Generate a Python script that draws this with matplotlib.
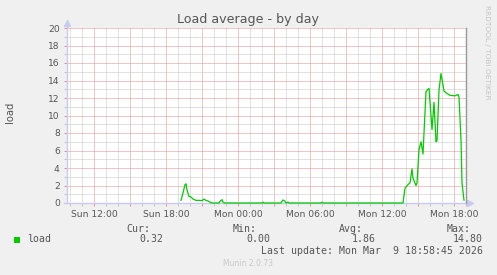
import numpy as np
import pandas as pd
import matplotlib
matplotlib.use('Agg')
import matplotlib.pyplot as plt
import matplotlib.dates as mdates
from matplotlib.patches import Rectangle

# load samples (Sun = 2026-03-08, Mon = 2026-03-09)
times = [
    '2026-03-08 19:15', '2026-03-08 19:25', '2026-03-08 19:35', '2026-03-08 19:40',
    '2026-03-08 19:45', '2026-03-08 19:55', '2026-03-08 20:05', '2026-03-08 20:15',
    '2026-03-08 20:30', '2026-03-08 20:50', '2026-03-08 21:00', '2026-03-08 21:10',
    '2026-03-08 21:20', '2026-03-08 21:30', '2026-03-08 21:40', '2026-03-08 21:50',
    '2026-03-08 22:25', '2026-03-08 22:30', '2026-03-08 22:40', '2026-03-08 22:45',
    '2026-03-08 22:55', '2026-03-09 02:00', '2026-03-09 02:05', '2026-03-09 02:10',
    '2026-03-09 03:35', '2026-03-09 03:40', '2026-03-09 03:45', '2026-03-09 03:55',
    '2026-03-09 04:00', '2026-03-09 04:10', '2026-03-09 04:15', '2026-03-09 06:55',
    '2026-03-09 07:00', '2026-03-09 07:05', '2026-03-09 13:45', '2026-03-09 13:55',
    '2026-03-09 14:10', '2026-03-09 14:20', '2026-03-09 14:30', '2026-03-09 14:35',
    '2026-03-09 14:50', '2026-03-09 14:55', '2026-03-09 15:05', '2026-03-09 15:15',
    '2026-03-09 15:25', '2026-03-09 15:40', '2026-03-09 15:55', '2026-03-09 16:10',
    '2026-03-09 16:20', '2026-03-09 16:30', '2026-03-09 16:35', '2026-03-09 16:45',
    '2026-03-09 16:55', '2026-03-09 17:05', '2026-03-09 17:10', '2026-03-09 17:20',
    '2026-03-09 17:40', '2026-03-09 18:05', '2026-03-09 18:20', '2026-03-09 18:25',
    '2026-03-09 18:35', '2026-03-09 18:40', '2026-03-09 18:50',
]
load = [
    0.30, 1.15, 2.10, 2.20,
    1.50, 0.75, 0.70, 0.45,
    0.30, 0.30, 0.27, 0.45,
    0.30, 0.23, 0.10, 0.00,
    0.00, 0.20, 0.38, 0.10,
    0.00, 0.00, 0.10, 0.00,
    0.00, 0.20, 0.35, 0.20,
    0.00, 0.10, 0.00, 0.00,
    0.10, 0.00, 0.00, 1.70,
    2.10, 2.30, 3.90, 2.85,
    2.00, 2.30, 6.10, 7.00,
    5.60, 12.75, 13.10, 8.40,
    11.50, 7.00, 7.10, 12.90,
    14.80, 13.50, 12.80, 12.60,
    12.30, 12.25, 12.40, 12.10,
    7.20, 2.30, 0.32,
]

legend_cols = ['Cur:', 'Min:', 'Avg:', 'Max:']
legend_vals = ['0.32', '0.00', '1.86', '14.80']
last_update = 'Last update: Mon Mar  9 18:58:45 2026'

t = pd.to_datetime(times)
t0 = pd.Timestamp('2026-03-08 09:45')
t1 = pd.Timestamp('2026-03-09 19:00')

W, H = 497, 275
fig = plt.figure(figsize=(W / 100, H / 100), dpi=100, facecolor='#f0f0f0')

def fx(x):
    return x / W

def fy(y):
    return 1 - y / H

# plot area in pixels: x 67..466, y 28..203
ax = fig.add_axes([fx(67), fy(203), fx(466) - fx(67), fy(28) - fy(203)])
ax.set_facecolor('white')
ax.set_xlim(t0, t1)
ax.set_ylim(0, 20)

red = '#e48e8e'
gray = '#c4c4c4'
txt = '#555555'
axis_col = '#c9c9f2'

# grids
ax.xaxis.set_major_locator(mdates.HourLocator(byhour=range(0, 24, 3)))
ax.xaxis.set_minor_locator(mdates.HourLocator())
ax.yaxis.set_major_locator(plt.MultipleLocator(2))
ax.yaxis.set_minor_locator(plt.MultipleLocator(1))

def xfmt(v, pos):
    d = mdates.num2date(v)
    if d.hour % 6 == 0:
        return d.strftime('%a %H:%M')
    return ''

ax.xaxis.set_major_formatter(plt.FuncFormatter(xfmt))
ax.grid(which='major', color=red, linestyle=(0, (1, 1)), linewidth=0.72)
ax.grid(which='minor', color=gray, linestyle=(0, (1, 1)), linewidth=0.72)
ax.set_axisbelow(True)

ax.tick_params(which='major', axis='x', length=2, width=0.7, color=red,
               labelsize=6.6, labelcolor=txt, pad=3)
ax.tick_params(which='minor', axis='x', length=2, width=0.7, color=gray)
ax.tick_params(which='major', axis='y', length=2.2, width=0.7, color=red,
               labelsize=6.6, labelcolor=txt, pad=3)
ax.tick_params(which='minor', axis='y', length=2.2, width=0.7, color=gray)

for s in ['top', 'left', 'bottom']:
    ax.spines[s].set_visible(False)
ax.spines['right'].set_color('#999999')
ax.spines['right'].set_linewidth(1.0)

# axes with arrows
ax.plot([0, 0], [0, 1.02], transform=ax.transAxes, color=axis_col, lw=1, clip_on=False, zorder=1)
ax.plot([-0.008, 1.0075], [0, 0], transform=ax.transAxes, color=axis_col, lw=1, clip_on=False, zorder=1)
ax.plot([0], [1.03], transform=ax.transAxes, marker='^', ms=4, color=axis_col, clip_on=False, zorder=1)
ax.plot([1.011], [0], transform=ax.transAxes, marker='>', ms=4, color=axis_col, clip_on=False, zorder=1)

ax.plot(t, load, color='#00cc00', lw=0.9, zorder=3, clip_on=False)

fig.text(fx(248), fy(19), 'Load average - by day', ha='center', va='center',
         fontsize=9.1, color=txt)
fig.text(fx(10), fy(112), 'load', ha='center', va='center', rotation=90,
         fontsize=7.2, color=txt)
fig.text(fx(487), fy(5), 'RRDTOOL / TOBI OETIKER', ha='center', va='top', rotation=270,
         fontsize=5.3, color='#c4c4c4')

mono = 'DejaVu Sans Mono'
fs = 7.1
fig.patches.append(Rectangle((fx(14), fy(243)), fx(6), 6 / H, transform=fig.transFigure,
                             facecolor='#00cc00', edgecolor='none'))
fig.text(fx(27), fy(239.5), 'load', family=mono, fontsize=fs, color=txt, va='center')
col_right = [150, 257, 363, 471]
val_right = [163, 270, 376, 483]
for c, v, cr, vr in zip(legend_cols, legend_vals, col_right, val_right):
    fig.text(fx(cr), fy(228.5), c, family=mono, fontsize=fs, color=txt, ha='right', va='center')
    fig.text(fx(vr), fy(239.5), v, family=mono, fontsize=fs, color=txt, ha='right', va='center')
fig.text(fx(483), fy(251), last_update, family=mono, fontsize=fs, color=txt,
         ha='right', va='center')
fig.text(fx(248), fy(264), 'Munin 2.0.73', fontsize=5.5, color='#c8c8c8',
         ha='center', va='center')

fig.savefig('out.png', dpi=100, facecolor=fig.get_facecolor())
